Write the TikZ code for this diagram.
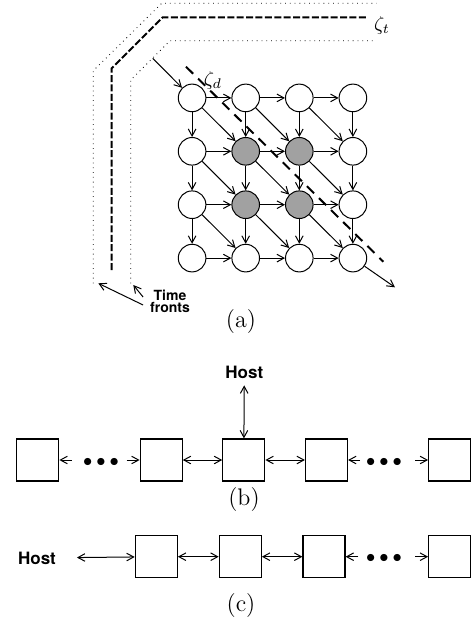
\documentclass[tikz,border=0pt]{standalone}
\usepackage{fontspec}
\newfontfamily\hvfont{TeX Gyre Heros}
\usetikzlibrary{arrows.meta,matrix,positioning}

\begin{document}
\begin{tikzpicture}[x=0.5pt, y=-0.5pt,
         >={Straight Barb[length=3.5pt,width=3.8pt]},
         cell/.style={draw, circle, minimum size=13.8pt, inner sep=0pt, line width=0.5pt},
         busy/.style={fill=black!37},
         pe/.style={draw, minimum size=21pt, inner sep=0pt, line width=0.6pt},
         lbl/.style={font=\hvfont\bfseries\fontsize{8.5}{10}\selectfont},
         dots/.style={font=\small, inner sep=0pt},
         caption/.style={font=\large},
         link/.style={line width=0.5pt},
         front/.style={dotted, line width=0.4pt}]
   \useasboundingbox (0,0) rectangle (471,623);

   % (a) time fronts
   \draw[front] (93.3,283.3) -- (93.3,70.7) -- (161.7,3.3) -- (376.7,3.3);
   \draw[line width=1pt, dash pattern=on 3.5pt off 1.2pt]
         (111.7,270) -- (111.7,68.3) -- (162.7,17.3) -- (366.7,17.3);
   \draw[front] (130.7,283.3) -- (130.7,80) -- (170,40.7) -- (376.7,40.7);
   \node (zt) at (382,25) {$\zeta_t$};

   \matrix (grid) at (272.5,178) [matrix of nodes, nodes in empty cells,
         nodes={cell}, column sep=12.5pt, row sep=12.4pt]
         {
       & & & \\
       & |[busy]| & |[busy]| & \\
       & |[busy]| & |[busy]| & \\
       & & & \\
    };
   \foreach \r [evaluate=\r as \s using int(\r+1)] in {1,2,3} {
      \foreach \c [evaluate=\c as \d using int(\c+1)] in {1,2,3} {
         \draw[->, link] (grid-\r-\c) -- (grid-\s-\d);
      }
   }
   \foreach \r in {1,...,4} {
      \foreach \c [evaluate=\c as \d using int(\c+1)] in {1,2,3} {
         \draw[->, link] (grid-\r-\c) -- (grid-\r-\d);
         \draw[->, link] (grid-\c-\r) -- (grid-\d-\r);
      }
   }
   \coordinate (in) at (152.7,58.3);
   \coordinate (out) at (395,287.3);
   \draw[->, link] (in) -- (grid-1-1);
   \draw[->, link] (grid-4-4) -- (out);

   \coordinate (zdA) at (186,66.7);
   \coordinate (zdB) at (383.3,261.7);
   \draw[line width=1pt, dash pattern=on 5pt off 3.5pt] (zdA) -- (zdB);
   \node (zd) at (213,80) {$\zeta_d$};

   \node[font=\hvfont\bfseries\fontsize{7}{6}\selectfont, align=center] (tf) at (170,301)
         {Time\\fronts};
   \coordinate (tfA) at (98.3,283.3);
   \coordinate (tfB) at (133.3,285);
   \draw[->, link] ([yshift=-2pt]tf.west) -- (tfA);
   \draw[->, link] ([yshift=2pt]tf.west) -- (tfB);
   \node[caption] (capa) at (241,322) {(a)};

   % (b) linear array, host in the middle
   \node[pe] (b1) at (37.8,460) {};
   \node[pe] (b2) at (161.2,460) {};
   \node[pe] (b3) at (243.8,460) {};
   \node[pe] (b4) at (326.5,460) {};
   \node[pe] (b5) at (449.7,460) {};
   \node[lbl] (bh) at (244.3,372) {Host};
   \node[dots] (bdots1) at (101,462) {$\bullet\bullet\bullet$};
   \node[dots] (bdots2) at (384,462) {$\bullet\bullet\bullet$};
   \coordinate (bl1) at (71.7,460);
   \coordinate (bl2) at (126.7,460);
   \coordinate (bl3) at (360,460);
   \coordinate (bl4) at (415,460);
   \draw[<->, link] (bh) -- (b3);
   \draw[->, link] (bl1) -- (b1);
   \draw[->, link] (bl2) -- (b2);
   \draw[<->, link] (b2) -- (b3);
   \draw[<->, link] (b3) -- (b4);
   \draw[->, link] (bl3) -- (b4);
   \draw[->, link] (bl4) -- (b5);
   \node[caption] (capb) at (244,500) {(b)};

   % (c) linear array, host at the end
   \node[lbl] (ch) at (37,558) {Host};
   \node[pe] (c1) at (156.3,556.7) {};
   \node[pe] (c2) at (240.3,556.7) {};
   \node[pe] (c3) at (324,556.7) {};
   \node[pe] (c4) at (449.7,556.7) {};
   \node[dots] (cdots) at (384,558.7) {$\bullet\bullet\bullet$};
   \coordinate (cl1) at (358.3,556.7);
   \coordinate (cl2) at (415,556.7);
   \draw[<->, link, shorten <=7pt] (ch) -- (c1);
   \draw[<->, link] (c1) -- (c2);
   \draw[<->, link] (c2) -- (c3);
   \draw[->, link] (cl1) -- (c3);
   \draw[->, link] (cl2) -- (c4);
   \node[caption] (capc) at (241,606) {(c)};
\end{tikzpicture}
\end{document}
